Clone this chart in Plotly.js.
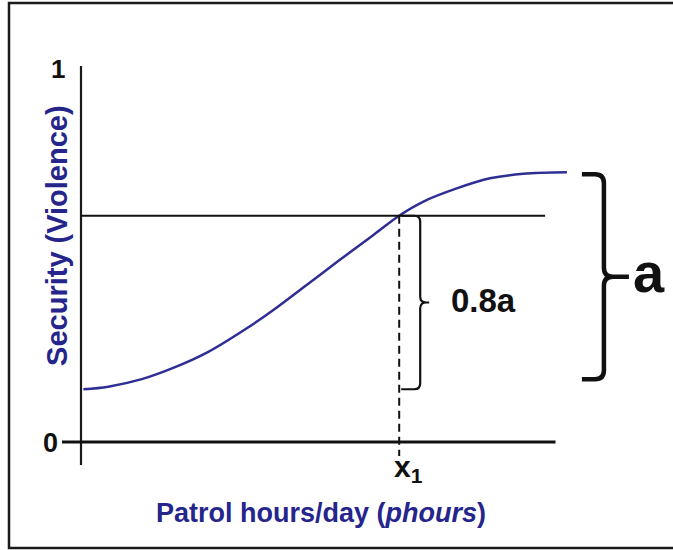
<!DOCTYPE html>
<html>
<head>
<meta charset="utf-8">
<script src="https://cdn.plot.ly/plotly-3.0.1.min.js"></script>
<style>
  html, body { margin: 0; padding: 0; background: #ffffff; }
  #chart { width: 673px; height: 550px; }
</style>
</head>
<body>
<div id="chart"></div>
<script>
// ---- data ----
const patrolHours = [0.05, 0.575, 1.28, 1.98, 2.68, 3.49, 4.05, 4.75, 5.45, 6.15, 6.72, 7.21, 7.91, 8.61, 9.31, 10.23];
const security    = [0.141, 0.148, 0.168, 0.200, 0.241, 0.304, 0.353, 0.420, 0.487, 0.553, 0.607, 0.643, 0.678, 0.705, 0.717, 0.721];
const fraction = 0.8;
const yTickVals = [0, 1];
const yTickText = ['0', '1'];
const xTitleText = 'Patrol hours/day (<i>phours</i>)';
const yTitleText = 'Security (Violence)';
const xMarkText = 'x<sub>1</sub>';
const smallBraceText = '0.8a';
const bigBraceText = 'a';

// ---- derived values ----
const yMin = Math.min(...security);
const yMax = Math.max(...security);
const level = yMin + fraction * (yMax - yMin);
let x1 = patrolHours[patrolHours.length - 1];
for (let i = 1; i < security.length; i++) {
  if (security[i - 1] <= level && security[i] >= level) {
    const t = (level - security[i - 1]) / (security[i] - security[i - 1]);
    x1 = patrolHours[i - 1] + t * (patrolHours[i] - patrolHours[i - 1]);
    break;
  }
}

// pixel scale of the axes (px per data unit)
const PX = 47.5, PY = 374;
const xr = [-81 / PX, (673 - 81) / PX];
const yr = [-(550 - 442) / PY, 442 / PY];

function brace(xStart, xSpine, xTip, yTop, yBot, r) {
  const rx = r / PX, ry = r / PY;
  const yMid = (yTop + yBot) / 2;
  return `M ${xStart},${yTop} L ${xSpine - rx},${yTop} Q ${xSpine},${yTop} ${xSpine},${yTop - ry} ` +
         `L ${xSpine},${yMid + ry} Q ${xSpine},${yMid} ${xSpine + rx},${yMid} L ${xTip},${yMid} ` +
         `M ${xSpine + rx},${yMid} Q ${xSpine},${yMid} ${xSpine},${yMid - ry} ` +
         `L ${xSpine},${yBot + ry} Q ${xSpine},${yBot} ${xSpine - rx},${yBot} L ${xStart},${yBot}`;
}

const xEnd = patrolHours[patrolHours.length - 1];
const yAxisX = 0;
const FONT = 'Liberation Sans, Arial, sans-serif';

const shapes = [
  // frame
  {type: 'rect', xref: 'paper', yref: 'paper', x0: 9 / 673, x1: 1.02, y0: 1 - 548 / 550, y1: 1 - 3 / 550,
   line: {color: '#1a1a1a', width: 2.5}, fillcolor: 'rgba(0,0,0,0)'},
  // y axis line
  {type: 'line', xref: 'x', yref: 'y', x0: yAxisX, x1: yAxisX, y0: -23 / PY, y1: yTickVals[1] + 2 / PY,
   line: {color: '#1a1a1a', width: 2.2}},
  // zero line with tick
  {type: 'line', xref: 'x', yref: 'y', x0: -19 / PX, x1: xEnd - 0.24, y0: yTickVals[0], y1: yTickVals[0],
   line: {color: '#111', width: 3}},
  // level line (0.8a)
  {type: 'line', xref: 'x', yref: 'y', x0: yAxisX, x1: xEnd - 0.46, y0: level, y1: level,
   line: {color: '#111', width: 2.2}},
  // dashed drop line at x1
  {type: 'line', xref: 'x', yref: 'y', x0: x1, x1: x1, y0: level, y1: -14 / PY,
   line: {color: '#111', width: 2, dash: '8px,5px'}},
  // small brace (0.8a)
  {type: 'path', xref: 'x', yref: 'y',
   path: brace(x1 + 2 / PX, x1 + 21 / PX, x1 + 30 / PX, level, yMin, 6),
   line: {color: '#111', width: 2.2}},
  // big brace (a)
  {type: 'path', xref: 'x', yref: 'y',
   path: brace(xEnd + 15 / PX, xEnd + 37 / PX, xEnd + 62 / PX, yMax - 2 / PY, yMin + 10 / PY, 9),
   line: {color: '#111', width: 4.5}}
];

const annotations = [
  {xref: 'x', yref: 'y', x: -23 / PX, y: yTickVals[1] - 1 / PY, text: '<b>' + yTickText[1] + '</b>', showarrow: false,
   font: {family: FONT, size: 26, color: '#111'},
   xanchor: 'center', yanchor: 'middle'},
  {xref: 'x', yref: 'y', x: -31 / PX, y: yTickVals[0] - 1 / PY, text: '<b>' + yTickText[0] + '</b>', showarrow: false,
   font: {family: FONT, size: 27, color: '#111'},
   xanchor: 'center', yanchor: 'middle'},
  {xref: 'x', yref: 'y', x: -24 / PX, y: 0.551, text: '<b>' + yTitleText + '</b>', showarrow: false, textangle: -90,
   font: {family: FONT, size: 29, color: '#25258c'},
   xanchor: 'center', yanchor: 'middle'},
  {xref: 'x', yref: 'y', x: 5.05, y: -71 / PY, text: '<b>' + xTitleText + '</b>', showarrow: false,
   font: {family: FONT, size: 27, color: '#25258c'},
   xanchor: 'center', yanchor: 'middle'},
  {xref: 'x', yref: 'y', x: x1 + 9 / PX, y: -26 / PY, text: '<b>' + xMarkText + '</b>', showarrow: false,
   font: {family: FONT, size: 30, color: '#111'},
   xanchor: 'center', yanchor: 'middle'},
  {xref: 'x', yref: 'y', x: x1 + 84 / PX, y: (level + yMin) / 2 + 2 / PY, text: '<b>' + smallBraceText + '</b>', showarrow: false,
   font: {family: FONT, size: 33, color: '#111'},
   xanchor: 'center', yanchor: 'middle'},
  {xref: 'x', yref: 'y', x: xEnd + 82 / PX, y: (yMax + yMin) / 2 + 8 / PY, text: '<b>' + bigBraceText + '</b>', showarrow: false,
   font: {family: FONT, size: 56, color: '#111'},
   xanchor: 'center', yanchor: 'middle'}
];

const trace = {
  x: patrolHours, y: security, type: 'scatter', mode: 'lines',
  line: {color: '#2e2e95', width: 2.5, shape: 'spline', smoothing: 1.0},
  hoverinfo: 'skip', showlegend: false
};

const layout = {
  width: 673, height: 550,
  margin: {l: 0, r: 0, t: 0, b: 0, pad: 0},
  paper_bgcolor: '#ffffff', plot_bgcolor: '#ffffff',
  xaxis: {range: xr, visible: false, fixedrange: true},
  yaxis: {range: yr, visible: false, fixedrange: true},
  shapes: shapes,
  annotations: annotations,
  showlegend: false
};

Plotly.newPlot('chart', [trace], layout, {staticPlot: true, displayModeBar: false});
</script>
</body>
</html>
